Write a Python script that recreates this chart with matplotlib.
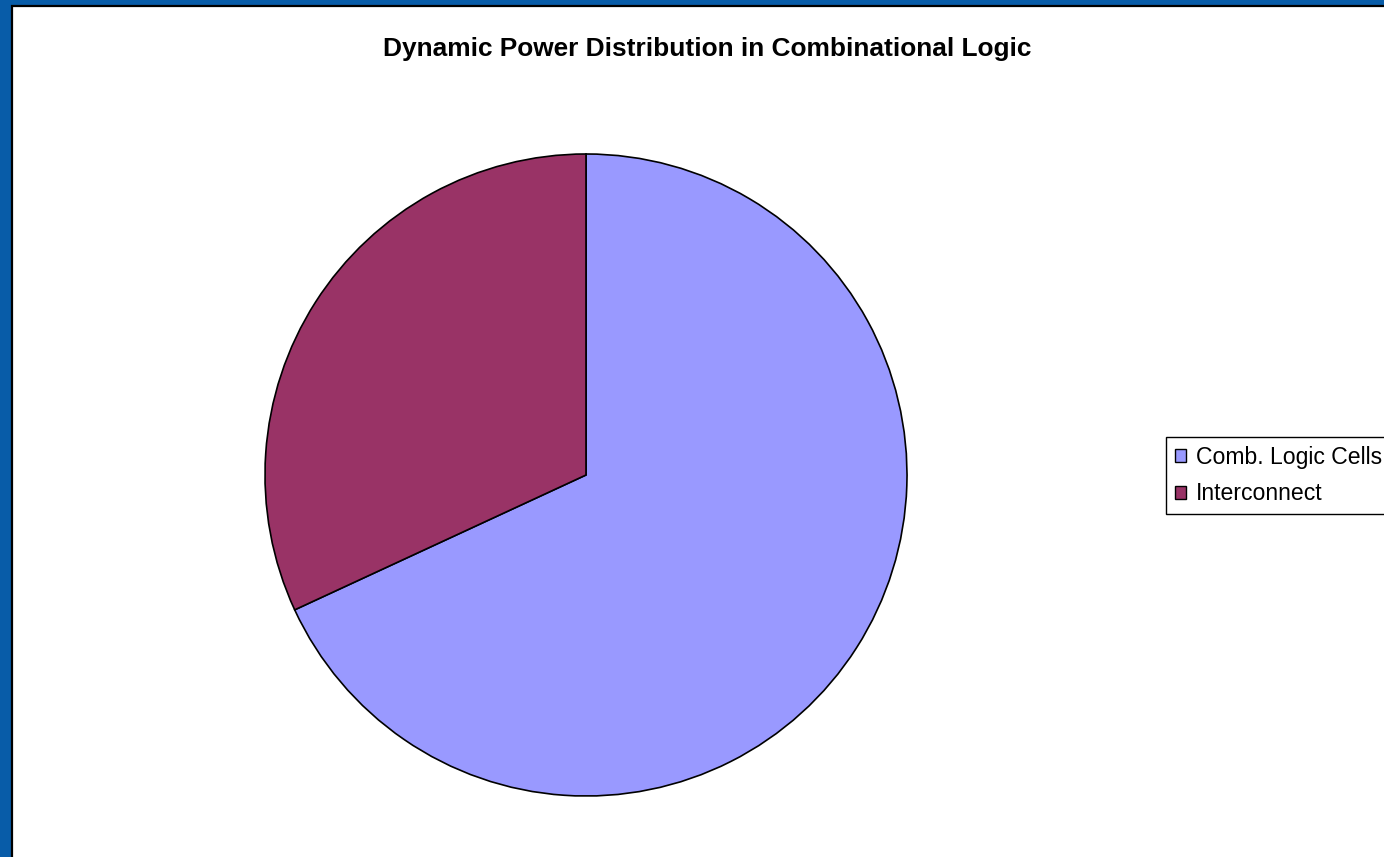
import matplotlib
matplotlib.use("Agg")
from matplotlib import pyplot as plt
from matplotlib.patches import Rectangle

# power share per block (percent)
labels = ["Comb. Logic Cells", "Interconnect"]
shares = [68.1, 31.9]
colors = ["#9999FF", "#993366"]

W, H = 1384, 857
plt.rcParams["font.family"] = ["Liberation Sans", "DejaVu Sans"]

fig = plt.figure(figsize=(W / 100, H / 100), dpi=100)
fig.patch.set_facecolor("#085CA8")

# white chart area with a black edge, inset from the blue frame
fig.patches.append(Rectangle((12 / W, -0.01), 1.0, 1 - 6 / H + 0.01,
                             transform=fig.transFigure, facecolor="white",
                             edgecolor="black", linewidth=1.6, zorder=-5))

fig.text(707 / W, 1 - 49 / H, "Dynamic Power Distribution in Combinational Logic",
         ha="center", va="center", fontsize=18.9, fontweight="bold")

cx, cy, r = 586, 475, 321
ax = fig.add_axes([(cx - r) / W, (H - cy - r) / H, 2 * r / W, 2 * r / H])
ax.set_zorder(2)
wedges, _ = ax.pie(shares, colors=colors, startangle=90, counterclock=False,
                   wedgeprops=dict(edgecolor="black", linewidth=1.2))
ax.set_xlim(-1, 1)
ax.set_ylim(-1, 1)
ax.set_aspect("equal")

leg = fig.legend(wedges, labels, loc="upper left",
                 bbox_to_anchor=(1166 / W, 1 - 437 / H),
                 fontsize=16.6, frameon=True, fancybox=False, framealpha=1,
                 edgecolor="black", handlelength=0.48, handleheight=0.48,
                 handletextpad=0.43, borderpad=0.37, labelspacing=0.6,
                 borderaxespad=0)
leg.set_zorder(3)
leg.get_frame().set_linewidth(1.0)
for h in leg.legend_handles:
    h.set_linewidth(1.0)

fig.savefig("out.png", dpi=100, facecolor=fig.get_facecolor())
